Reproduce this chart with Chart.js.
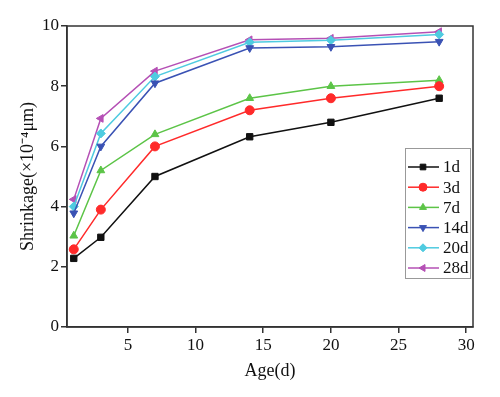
<!DOCTYPE html>
<html>
<head>
<meta charset="utf-8">
<script src="https://cdn.jsdelivr.net/npm/chart.js@4/dist/chart.umd.min.js"></script>
<style>
  html, body { margin: 0; padding: 0; background: #fff; }
  #wrap { width: 500px; height: 397px; }
</style>
</head>
<body>
<div id="wrap"><canvas id="shrink"></canvas></div>
<script>
// ===== SHRINKAGE VS AGE =====
const ages = [1, 3, 7, 14, 20, 28];
const xTicks = [5, 10, 15, 20, 25, 30];
const s1d = [2.28, 2.98, 5.0, 6.32, 6.8, 7.6];
const s3d = [2.58, 3.9, 6.0, 7.2, 7.6, 8.0];
const s7d = [3.03, 5.2, 6.4, 7.6, 8.0, 8.2];
const s14d = [3.78, 6.0, 8.1, 9.27, 9.31, 9.48];
const s20d = [4.0, 6.43, 8.32, 9.46, 9.53, 9.72];
const s28d = [4.24, 6.93, 8.5, 9.54, 9.59, 9.81];

const FONT = 'Liberation Serif, Times New Roman, serif';

function series(label, values, color, style, rot) {
  return {
    label: label,
    data: values.map((v, i) => ({ x: ages[i], y: v })),
    borderColor: color,
    backgroundColor: color,
    borderWidth: 1.5,
    pointStyle: style,
    rotation: rot,
    pointRadius: 4.5,
    pointBorderWidth: 1,
    tension: 0
  };
}

// legend drawn inside the plot, like the original figure
const innerLegend = {
  id: 'innerLegend',
  afterDraw(chart) {
    const ctx = chart.ctx;
    const x0 = 405, y0 = 148, w = 65, h = 130;
    ctx.save();
    ctx.fillStyle = '#fff';
    ctx.fillRect(x0, y0, w, h);
    ctx.strokeStyle = '#999';
    ctx.lineWidth = 1;
    ctx.strokeRect(x0 + 0.5, y0 + 0.5, w, h);
    ctx.font = '17px ' + FONT;
    ctx.textBaseline = 'middle';
    chart.data.datasets.forEach((ds, i) => {
      const y = y0 + 19 + i * 20.2;
      ctx.strokeStyle = ds.borderColor;
      ctx.lineWidth = 1.5;
      ctx.beginPath();
      ctx.moveTo(x0 + 3, y);
      ctx.lineTo(x0 + 34, y);
      ctx.stroke();
      ctx.fillStyle = ds.backgroundColor;
      ctx.strokeStyle = ds.borderColor;
      ctx.lineWidth = 1;
      Chart.helpers.drawPoint(ctx, {
        pointStyle: ds.pointStyle, rotation: ds.rotation, radius: 4, borderWidth: 1
      }, x0 + 18, y);
      ctx.fillStyle = '#111';
      ctx.fillText(ds.label, x0 + 38, y + 1);
    });
    ctx.restore();
  }
};

// full frame around the plot
const frame = {
  id: 'frame',
  afterDatasetsDraw(chart) {
    const a = chart.chartArea, ctx = chart.ctx;
    ctx.save();
    ctx.strokeStyle = '#333';
    ctx.lineWidth = 1.5;
    ctx.strokeRect(a.left, a.top, a.right - a.left, a.bottom - a.top);
    ctx.restore();
  }
};

new Chart(document.getElementById('shrink'), {
  type: 'line',
  data: {
    datasets: [
      series('1d', s1d, '#111111', 'rect', 0),
      series('3d', s3d, '#ff2a2a', 'circle', 0),
      series('7d', s7d, '#5cc447', 'triangle', 0),
      series('14d', s14d, '#3a52b4', 'triangle', 180),
      series('20d', s20d, '#4fcbe0', 'rectRot', 0),
      series('28d', s28d, '#b550b5', 'triangle', -90)
    ]
  },
  options: {
    responsive: true,
    maintainAspectRatio: false,
    animation: false,
    layout: { padding: { top: 26, right: 27, left: 13, bottom: 11 } },
    plugins: {
      legend: { display: false },
      tooltip: { enabled: false }
    },
    scales: {
      x: {
        type: 'linear',
        min: 0.5,
        max: 30.5,
        afterBuildTicks: s => { s.ticks = xTicks.map(v => ({ value: v })); },
        afterFit: s => { s.height = 59; },
        grid: { display: true, drawOnChartArea: false, drawTicks: true, tickLength: 6, color: '#333', lineWidth: 1.5 },
        border: { display: true, color: '#333', width: 1.5 },
        ticks: { color: '#111', font: { family: FONT, size: 17 }, padding: 2, maxRotation: 0 },
        title: { display: true, text: 'Age(d)', color: '#111', font: { family: FONT, size: 18 }, padding: { top: 2 } }
      },
      y: {
        min: 0,
        max: 10,
        afterFit: s => { s.width = 54; },
        grid: { display: true, drawOnChartArea: false, drawTicks: true, tickLength: 6, color: '#333', lineWidth: 1.5 },
        border: { display: true, color: '#333', width: 1.5 },
        ticks: { stepSize: 2, color: '#111', font: { family: FONT, size: 17 }, padding: 2 },
        title: { display: true, text: 'Shrinkage(×10⁻⁴μm)', color: '#111', font: { family: FONT, size: 18 }, padding: { bottom: 0 } }
      }
    }
  },
  plugins: [frame, innerLegend]
});
</script>
</body>
</html>
